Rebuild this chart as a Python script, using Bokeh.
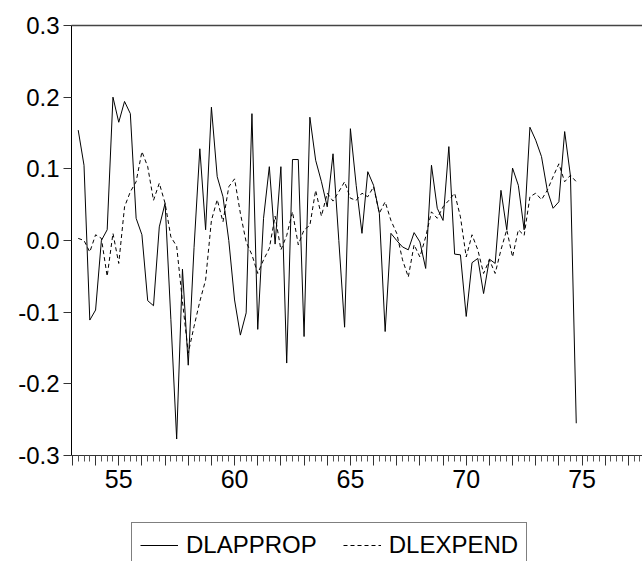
from bokeh.plotting import figure
from bokeh.models import (ColumnDataSource, FixedTicker, LinearAxis, Legend, LegendItem, Range1d)
from bokeh.layouts import column
from bokeh.embed import file_html
from bokeh.resources import INLINE
import numpy as np

# Quarterly observations, 1953Q2 .. 1974Q4
START_YEAR = 1953
START_QUARTER = 2

DLAPPROP = [
    0.154, 0.105, -0.111,
    -0.097, 0.000, 0.015, 0.200,
    0.165, 0.194, 0.177, 0.031,
    0.008, -0.084, -0.091, 0.019,
    0.052, -0.110, -0.277, -0.040,
    -0.174, -0.010, 0.128, 0.015,
    0.186, 0.089, 0.061, 0.000,
    -0.083, -0.132, -0.101, 0.177,
    -0.124, 0.031, 0.103, -0.005,
    0.103, -0.171, 0.113, 0.113,
    -0.134, 0.172, 0.112, 0.082,
    0.047, 0.121, 0.000, -0.121,
    0.156, 0.077, 0.010, 0.096,
    0.077, 0.038, -0.127, 0.010,
    0.000, -0.009, -0.013, 0.011,
    -0.002, -0.039, 0.105, 0.045,
    0.028, 0.131, -0.019, -0.020,
    -0.106, -0.031, -0.025, -0.074,
    -0.026, -0.032, 0.070, 0.015,
    0.101, 0.077, 0.015, 0.158,
    0.140, 0.117, 0.070, 0.045,
    0.054, 0.152, 0.090, -0.255,
]

DLEXPEND = [
    0.003, 0.000, -0.016,
    0.008, 0.003, -0.050, 0.010,
    -0.032, 0.047, 0.068, 0.082,
    0.124, 0.103, 0.056, 0.080,
    0.052, 0.005, -0.008, -0.085,
    -0.157, -0.120, -0.085, -0.055,
    0.028, 0.057, 0.026, 0.075,
    0.086, 0.038, -0.002, -0.020,
    -0.046, -0.027, -0.011, 0.034,
    -0.013, 0.007, 0.040, -0.006,
    0.015, 0.021, 0.070, 0.034,
    0.066, 0.055, 0.068, 0.082,
    0.059, 0.056, 0.066, 0.061,
    0.075, 0.038, 0.054, 0.028,
    0.010, -0.027, -0.051, -0.006,
    -0.023, 0.005, 0.040, 0.031,
    0.047, 0.056, 0.066, 0.033,
    -0.023, 0.008, -0.013, -0.046,
    -0.027, -0.046, -0.013, 0.015,
    -0.023, 0.015, 0.007, 0.061,
    0.066, 0.057, 0.070, 0.089,
    0.107, 0.082, 0.091, 0.082,
]

Y_TICKS = [-0.3, -0.2, -0.1, 0.0, 0.1, 0.2, 0.3]
Y_LABELS = ["-0.3", "-0.2", "-0.1", "0.0", "0.1", "0.2", "0.3"]
X_LABEL_YEARS = [1955, 1960, 1965, 1970, 1975]
X_LABELS = ["55", "60", "65", "70", "75"]
SERIES_NAMES = ["DLAPPROP", "DLEXPEND"]

n = len(DLAPPROP)
t = START_YEAR + (START_QUARTER - 1) / 4 + 0.25 * np.arange(n)
src = ColumnDataSource(data=dict(t=t, a=DLAPPROP, e=DLEXPEND))

FONT = "Liberation Sans"
DASH = "4 3"

p = figure(width=642, height=505, output_backend="svg", toolbar_location=None,
           x_range=Range1d(1952.96, 1977.61), y_range=Range1d(-0.3, 0.3),
           min_border_left=71, min_border_right=0, min_border_top=25,
           min_border_bottom=50, x_axis_location=None, y_axis_location=None)
p.outline_line_color = None
p.xgrid.visible = False
p.ygrid.visible = False
p.background_fill_color = "white"

p.line("t", "a", source=src, line_color="black", line_width=1)
p.line("t", "e", source=src, line_color="black", line_width=1, line_dash=DASH)

# y axis
yaxis = LinearAxis(ticker=FixedTicker(ticks=Y_TICKS),
                   major_label_overrides={v: s for v, s in zip(Y_TICKS, Y_LABELS)})
yaxis.axis_line_color = "black"
yaxis.major_tick_line_color = "#333333"
yaxis.major_tick_out = 8
yaxis.major_tick_in = 0
yaxis.minor_tick_line_color = None
yaxis.major_label_text_font = FONT
yaxis.major_label_text_font_size = "24px"
yaxis.major_label_text_color = "black"
yaxis.major_label_standoff = 4
p.add_layout(yaxis, "left")

# x axis
years = list(range(1953, 1978))
minor = [y + q * 0.25 for y in range(1953, 1978) for q in (1, 2, 3)]
overrides = {y: "" for y in years}
for y, s in zip(X_LABEL_YEARS, X_LABELS):
    overrides[y] = s
xaxis = LinearAxis(ticker=FixedTicker(ticks=years, minor_ticks=minor),
                   major_label_overrides=overrides)
xaxis.axis_line_color = "#333333"
xaxis.major_tick_line_color = "#333333"
xaxis.minor_tick_line_color = "#555555"
xaxis.major_tick_out = 10
xaxis.major_tick_in = 0
xaxis.minor_tick_out = 6
xaxis.minor_tick_in = 0
xaxis.major_label_text_font = FONT
xaxis.major_label_text_font_size = "25px"
xaxis.major_label_text_color = "black"
xaxis.major_label_standoff = 4
p.add_layout(xaxis, "below")

# top frame line
top = LinearAxis(ticker=FixedTicker(ticks=[]))
top.axis_line_color = "#444444"
top.axis_line_width = 1.5
top.major_label_text_font_size = "0px"
top.major_tick_line_color = None
top.minor_tick_line_color = None
p.add_layout(top, "above")

# legend strip below the chart (same series, ranges chosen so nothing shows here)
p2 = figure(width=642, height=56, output_backend="svg", toolbar_location=None,
            x_range=Range1d(0, 1), y_range=Range1d(0, 1),
            min_border=0, x_axis_location=None, y_axis_location=None)
p2.outline_line_color = None
p2.xgrid.visible = False
p2.ygrid.visible = False
k1 = p2.line("t", "a", source=src, line_color="black", line_width=1)
k2 = p2.line("t", "e", source=src, line_color="black", line_width=1, line_dash=DASH)

legend = Legend(items=[LegendItem(label=SERIES_NAMES[0], renderers=[k1]),
                       LegendItem(label=SERIES_NAMES[1], renderers=[k2])],
                orientation="horizontal", location=(60, -7))
legend.label_text_font = FONT
legend.label_text_font_size = "24px"
legend.label_text_color = "black"
legend.glyph_width = 38
legend.label_standoff = 8
legend.spacing = 26
legend.padding = 8
legend.margin = 0
legend.border_line_color = "black"
legend.border_line_width = 1
legend.background_fill_alpha = 1
p2.add_layout(legend, "center")

open("out.html", "w").write(file_html(column(p, p2, spacing=0), INLINE))
